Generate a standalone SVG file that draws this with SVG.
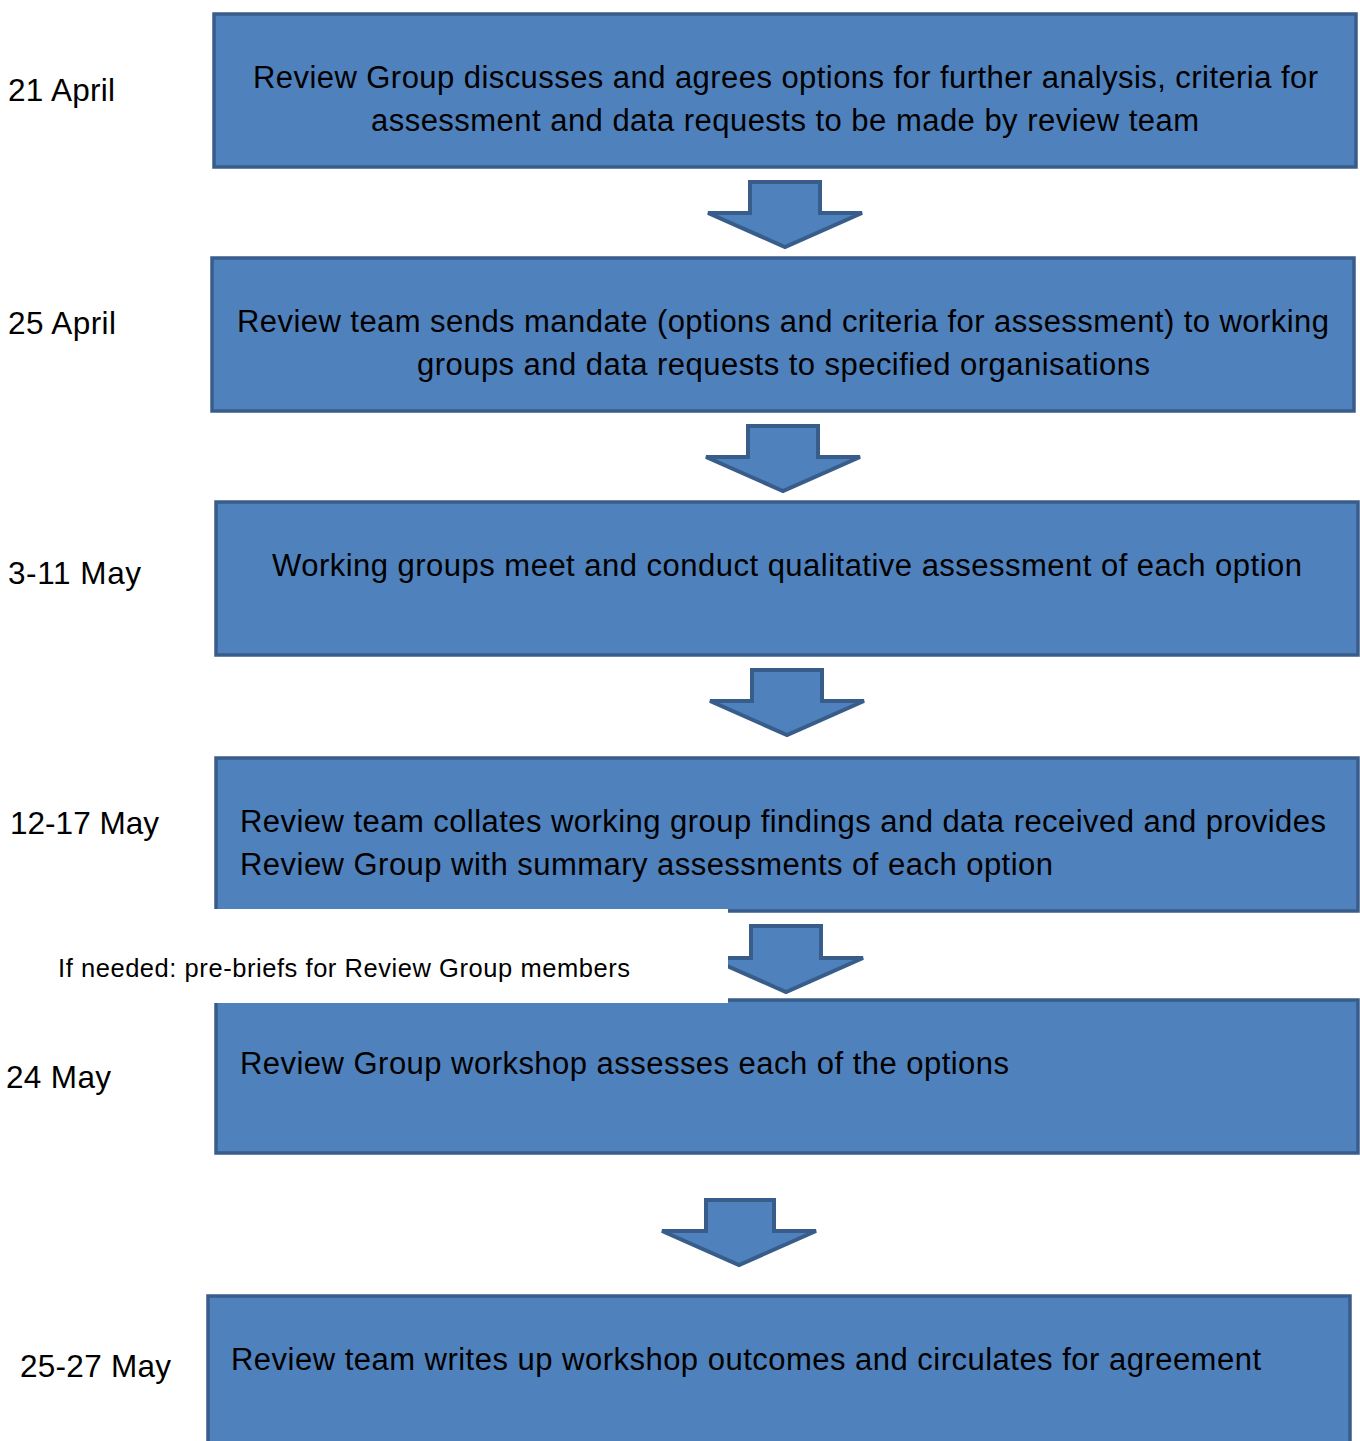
<svg xmlns="http://www.w3.org/2000/svg" width="1360" height="1441" viewBox="0 0 1360 1441">
<style>
.box{fill:#4f81bd;stroke:#385d8a;stroke-width:3.5}
.arr{fill:#4f81bd;stroke:#385d8a;stroke-width:4;stroke-linejoin:miter}
text{font-family:"Liberation Sans",Arial,sans-serif;fill:#000}
.bt{font-size:31px}
.dt{font-size:31.5px}
.c{text-anchor:middle}
.note{font-size:25.5px}
</style>
<rect width="1360" height="1441" fill="#fff"/>
<g id="connectors">
<polygon class="arr" points="750,182 820,182 820,213 862,213 785,247 708,213 750,213"/>
<polygon class="arr" points="748,426 818,426 818,457 860,457 783,491 706,457 748,457"/>
<polygon class="arr" points="752,670 822,670 822,701 864,701 787,735 710,701 752,701"/>
<polygon class="arr" points="751,926 821,926 821,958 863,958 786,992 709,958 751,958"/>
<polygon class="arr" points="706,1200 774,1200 774,1231 816,1231 739,1265 662,1231 706,1231"/>
</g>
<g id="node1">
<rect class="box" x="214" y="14" width="1142" height="153"/>
<text class="bt c" x="785.5" y="88" textLength="1065" lengthAdjust="spacing">Review Group discusses and agrees options for further analysis, criteria for</text>
<text class="bt c" x="785" y="131" textLength="828" lengthAdjust="spacing">assessment and data requests to be made by review team</text>
</g>
<g id="node2">
<rect class="box" x="212" y="258" width="1142" height="153"/>
<text class="bt c" x="783" y="332" textLength="1092" lengthAdjust="spacing">Review team sends mandate (options and criteria for assessment) to working</text>
<text class="bt c" x="783.5" y="375" textLength="733" lengthAdjust="spacing">groups and data requests to specified organisations</text>
</g>
<g id="node3">
<rect class="box" x="216" y="502" width="1142" height="153"/>
<text class="bt c" x="787" y="576" textLength="1030" lengthAdjust="spacing">Working groups meet and conduct qualitative assessment of each option</text>
</g>
<g id="node4">
<rect class="box" x="216" y="758" width="1142" height="153"/>
<text class="bt" x="240" y="832" textLength="1086" lengthAdjust="spacing">Review team collates working group findings and data received and provides</text>
<text class="bt" x="240" y="875" textLength="813" lengthAdjust="spacing">Review Group with summary assessments of each option</text>
</g>
<g id="node5">
<rect class="box" x="216" y="1000" width="1142" height="153"/>
<text class="bt" x="240" y="1074" textLength="769" lengthAdjust="spacing">Review Group workshop assesses each of the options</text>
</g>
<g id="node6">
<rect class="box" x="208" y="1296" width="1142" height="153"/>
<text class="bt" x="231" y="1370" textLength="1030" lengthAdjust="spacing">Review team writes up workshop outcomes and circulates for agreement</text>
</g>
<g id="note">
<rect x="0" y="909" width="728" height="94" fill="#fff"/>
<text class="note" x="58" y="977" textLength="572" lengthAdjust="spacing">If needed: pre-briefs for Review Group members</text>
</g>
<g id="dates">
<text class="dt" x="8" y="101" textLength="107" lengthAdjust="spacing">21 April</text>
<text class="dt" x="8" y="334" textLength="108" lengthAdjust="spacing">25 April</text>
<text class="dt" x="8" y="584" textLength="133" lengthAdjust="spacing">3-11 May</text>
<text class="dt" x="10" y="834" textLength="149" lengthAdjust="spacing">12-17 May</text>
<text class="dt" x="6" y="1088" textLength="105" lengthAdjust="spacing">24 May</text>
<text class="dt" x="20" y="1377" textLength="151" lengthAdjust="spacing">25-27 May</text>
</g>
</svg>
